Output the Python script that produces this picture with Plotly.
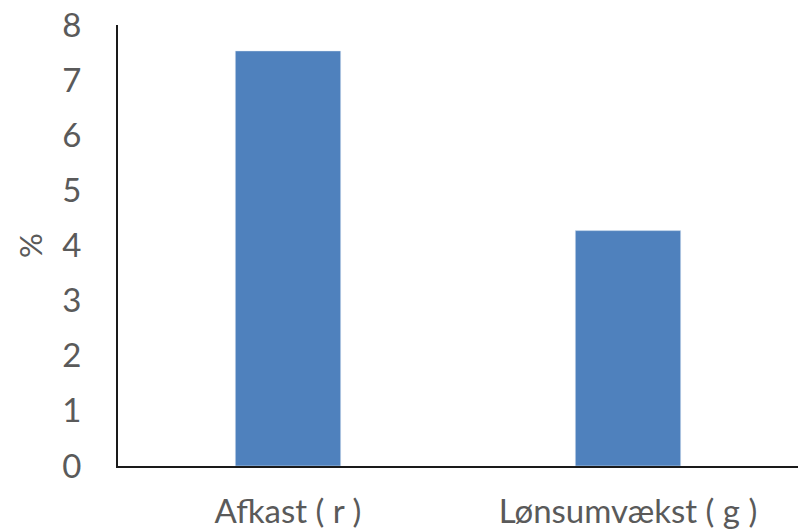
import plotly.graph_objects as go

categories = ["Afkast ( r )", "Lønsumvækst ( g )"]
values = [7.53, 4.27]
y_ticks = [0, 1, 2, 3, 4, 5, 6, 7, 8]

fig = go.Figure(go.Bar(x=categories, y=values, marker_color="#4F81BD", width=0.31))

fig.update_layout(
    width=800, height=531,
    margin=dict(l=118, r=2, t=25, b=65),
    paper_bgcolor="white", plot_bgcolor="white",
    font=dict(family="Lato", size=33, color="#5a5a5a"),
    showlegend=False,
)
fig.update_yaxes(
    range=[0, 8], tickvals=y_ticks, showgrid=False, zeroline=False,
    showline=True, linecolor="#1a1a1a", linewidth=2,
    ticks="outside", ticklen=28, tickcolor="rgba(0,0,0,0)",
    title=dict(text="%", standoff=10, font=dict(size=31)),
)
fig.update_xaxes(
    showline=True, linecolor="#1a1a1a", linewidth=2, showgrid=False,
    ticks="outside", ticklen=15, tickcolor="rgba(0,0,0,0)",
)
fig.write_html("out.html")
